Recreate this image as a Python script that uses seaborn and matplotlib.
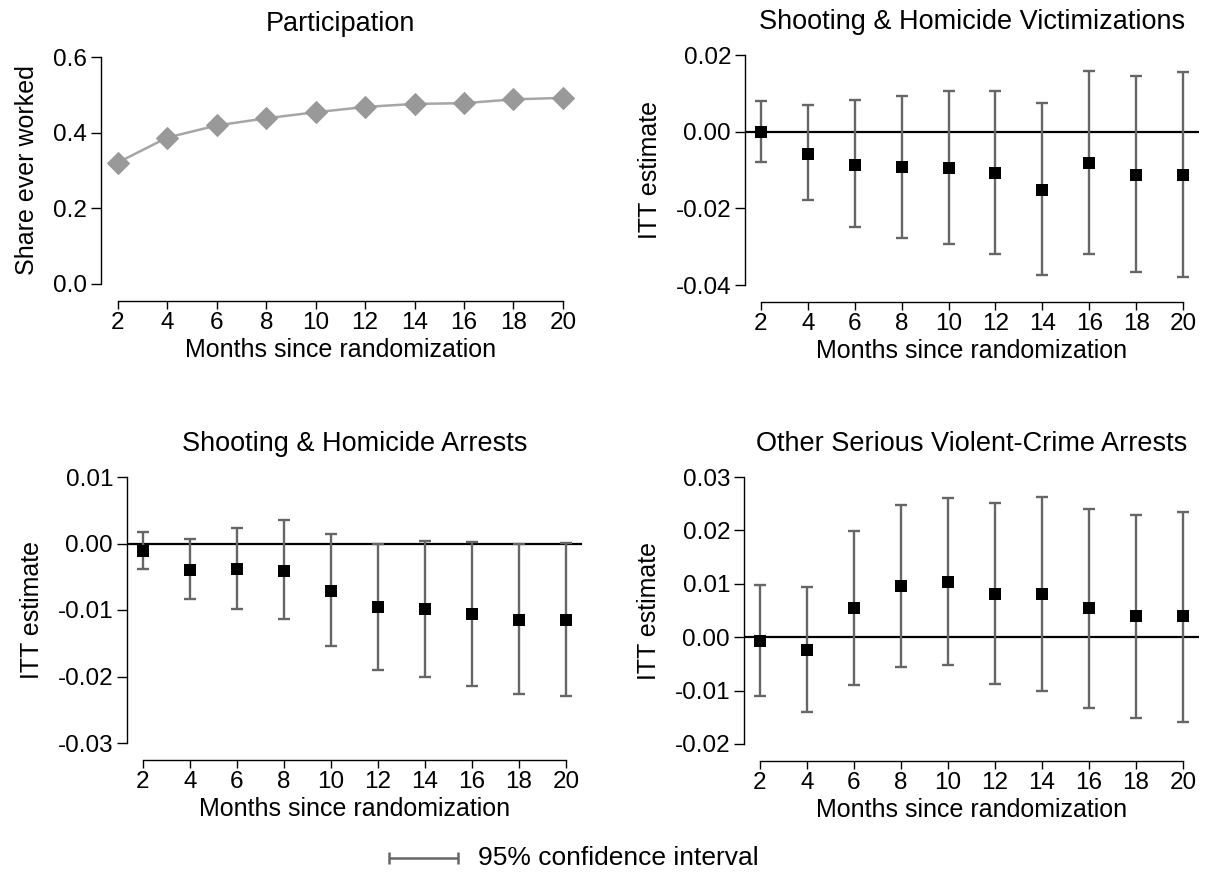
import numpy as np
import pandas as pd
import matplotlib
matplotlib.use("Agg")
import matplotlib.pyplot as plt
import seaborn as sns

# ---------------- data ----------------
months = [2, 4, 6, 8, 10, 12, 14, 16, 18, 20]

participation = [0.321, 0.387, 0.419, 0.438, 0.454, 0.468, 0.476, 0.478, 0.488, 0.492]

vict_est = [0.0000, -0.0057, -0.0086, -0.0093, -0.0095, -0.0109, -0.0152, -0.0081, -0.0112, -0.0112]
vict_lo = [-0.0080, -0.0177, -0.0250, -0.0277, -0.0293, -0.0319, -0.0375, -0.0319, -0.0366, -0.0379]
vict_hi = [0.0081, 0.0069, 0.0082, 0.0094, 0.0105, 0.0105, 0.0076, 0.0158, 0.0144, 0.0156]

arr_est = [-0.0011, -0.0040, -0.0038, -0.0041, -0.0071, -0.0096, -0.0099, -0.0106, -0.0115, -0.0115]
arr_lo = [-0.0039, -0.0084, -0.0099, -0.0114, -0.0154, -0.0190, -0.0201, -0.0214, -0.0226, -0.0230]
arr_hi = [0.0017, 0.0007, 0.0024, 0.0035, 0.0014, 0.0000, 0.0004, 0.0002, -0.0001, 0.0001]

oth_est = [-0.0007, -0.0024, 0.0054, 0.0096, 0.0104, 0.0081, 0.0081, 0.0054, 0.0039, 0.0039]
oth_lo = [-0.0111, -0.0141, -0.0090, -0.0055, -0.0052, -0.0088, -0.0100, -0.0132, -0.0151, -0.0159]
oth_hi = [0.0097, 0.0094, 0.0199, 0.0248, 0.0260, 0.0251, 0.0263, 0.0240, 0.0229, 0.0235]

titles = ["Participation", "Shooting & Homicide Victimizations",
          "Shooting & Homicide Arrests", "Other Serious Violent-Crime Arrests"]
xlabel = "Months since randomization"
ylabels = ["Share ever worked", "ITT estimate", "ITT estimate", "ITT estimate"]
yticks_list = [
    [0.0, 0.2, 0.4, 0.6],
    [-0.04, -0.02, 0.00, 0.02],
    [-0.03, -0.02, -0.01, 0.00, 0.01],
    [-0.02, -0.01, 0.00, 0.01, 0.02, 0.03],
]
yfmt = ["{:.1f}", "{:.2f}", "{:.2f}", "{:.2f}"]
legend_label = "95% confidence interval"

# ---------------- style ----------------
sns.set_theme(style="ticks")
plt.rcParams["font.family"] = ["Liberation Sans", "DejaVu Sans"]
plt.rcParams["axes.unicode_minus"] = False
for key in ["text.color", "axes.labelcolor", "xtick.color", "ytick.color", "axes.edgecolor"]:
    plt.rcParams[key] = "black"

FS_TICK = 17.5
FS_LABEL = 18
FS_TITLE = 19.5
FS_LEG = 19
CI_COLOR = "#666666"

fig = plt.figure(figsize=(12.07, 8.73), dpi=100)
W, H = 1207, 873

def add_ax(left_px, right_px, top_px, bottom_px):
    return fig.add_axes([left_px / W, 1 - bottom_px / H,
                         (right_px - left_px) / W, (bottom_px - top_px) / H])

XLIM = (1.32, 20.68)

def px_right(x2_px, x20_px):
    unit = (x20_px - x2_px) / 18.0
    return x2_px + (XLIM[1] - 2) * unit

axes = [
    add_ax(101, px_right(119, 563), 57, 284),
    add_ax(745, px_right(762, 1183), 55, 285),
    add_ax(127, px_right(143, 566), 477, 743),
    add_ax(744, px_right(762, 1183), 477, 744),
]

def style_axis(ax, i):
    yt = yticks_list[i]
    ax.set_xlim(*XLIM)
    ax.set_ylim(yt[0], yt[-1])
    ax.set_xticks(months)
    ax.set_xticklabels([str(m) for m in months], fontsize=FS_TICK)
    ax.set_yticks(yt)
    ax.set_yticklabels([yfmt[i].format(v) for v in yt], fontsize=FS_TICK)
    for s in ["top", "right"]:
        ax.spines[s].set_visible(False)
    ax.spines["bottom"].set_position(("outward", 12))
    ax.spines["bottom"].set_bounds(2, 20)
    ax.spines["left"].set_bounds(yt[0], yt[-1])
    for s in ["left", "bottom"]:
        ax.spines[s].set_linewidth(1.0)
        ax.spines[s].set_color("black")
    ax.tick_params(axis="x", direction="out", length=6, width=1.0,
                   colors="black", labelsize=FS_TICK, pad=2)
    ax.tick_params(axis="y", direction="out", length=7, width=1.0,
                   colors="black", labelsize=FS_TICK, pad=3)
    ax.set_xlabel(xlabel, fontsize=FS_LABEL, labelpad=3)
    ax.set_ylabel(ylabels[i], fontsize=FS_LABEL, labelpad=10)
    ax.set_title(titles[i], fontsize=FS_TITLE, pad=19)
    ax.set_facecolor("white")
    ax.grid(False)

# Panel 1: participation
ax = axes[0]
df1 = pd.DataFrame({"month": months, "share": participation})
sns.lineplot(data=df1, x="month", y="share", ax=ax, color="#a6a6a6",
             linewidth=1.8, marker="D", markersize=11,
             markerfacecolor="#999999", markeredgecolor="#999999")
style_axis(ax, 0)

# Panels 2-4: ITT estimates with CI
series = [(vict_est, vict_lo, vict_hi), (arr_est, arr_lo, arr_hi), (oth_est, oth_lo, oth_hi)]
for k, (est, lo, hi) in enumerate(series, start=1):
    ax = axes[k]
    est = np.array(est); lo = np.array(lo); hi = np.array(hi)
    ax.axhline(0, color="black", linewidth=1.6, zorder=1)
    ax.errorbar(months, est, yerr=[est - lo, hi - est], fmt="none",
                ecolor=CI_COLOR, elinewidth=1.7, capsize=4, capthick=1.7, zorder=2)
    dfk = pd.DataFrame({"month": months, "est": est})
    sns.scatterplot(data=dfk, x="month", y="est", ax=ax, marker="s", s=80,
                    color="black", edgecolor="black", linewidth=0, zorder=3)
    style_axis(ax, k)

# Legend
leg_ax = fig.add_axes([0, 0, 1, 1], frameon=False)
leg_ax.set_axis_off()
leg_ax.set_xlim(0, W); leg_ax.set_ylim(H, 0)
leg_ax.errorbar([423.5], [858], xerr=[[34.5], [34.5]], fmt="none",
                ecolor=CI_COLOR, elinewidth=1.8, capsize=4.5, capthick=1.8)
leg_ax.text(478, 858, legend_label, fontsize=FS_LEG, va="center", ha="left")

fig.savefig("out.png", dpi=100, facecolor="white")
